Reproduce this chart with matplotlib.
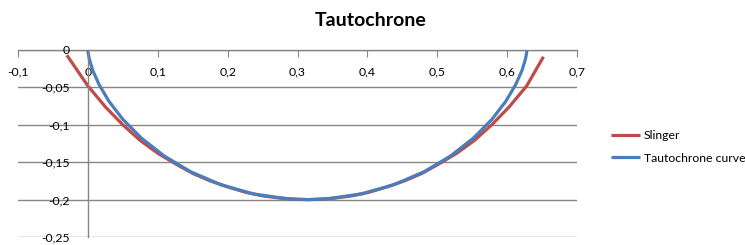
import matplotlib
matplotlib.use("Agg")
import matplotlib.pyplot as plt

plt.rcParams['font.family'] = ['Lato', 'DejaVu Sans']

# Data
slinger_x = [-0.030, 0.000, 0.025, 0.050, 0.075, 0.100, 0.125, 0.150, 0.175, 0.200,
             0.225, 0.250, 0.275, 0.300, 0.314, 0.328, 0.353, 0.378, 0.403, 0.428,
             0.453, 0.478, 0.503, 0.528, 0.553, 0.578, 0.603, 0.628, 0.652]
slinger_y = [-0.007, -0.048, -0.076, -0.100, -0.121, -0.138, -0.152, -0.165, -0.175, -0.183,
             -0.190, -0.195, -0.198, -0.1997, -0.200, -0.1997, -0.198, -0.195, -0.190, -0.183,
             -0.175, -0.165, -0.152, -0.138, -0.121, -0.100, -0.076, -0.048, -0.009]

taut_x = [0.0000, 0.0001, 0.0005, 0.0021, 0.0068, 0.0159, 0.0301, 0.0502, 0.0766, 0.1091,
          0.1472, 0.1902, 0.2368, 0.2859, 0.3142, 0.3424, 0.3915, 0.4381, 0.4811, 0.5192,
          0.5517, 0.5781, 0.5982, 0.6124, 0.6215, 0.6262, 0.6278, 0.6282]
taut_y = [0.0000, -0.0011, -0.0045, -0.0122, -0.0268, -0.0460, -0.0685, -0.0929, -0.1178, -0.1416,
          -0.1628, -0.1801, -0.1924, -0.1990, -0.2000, -0.1990, -0.1924, -0.1801, -0.1628, -0.1416,
          -0.1178, -0.0929, -0.0685, -0.0460, -0.0268, -0.0122, -0.0045, -0.0011]

x_ticks = [-0.1, 0.0, 0.1, 0.2, 0.3, 0.4, 0.5, 0.6, 0.7]
x_labels = ['-0,1', '0', '0,1', '0,2', '0,3', '0,4', '0,5', '0,6', '0,7']
y_ticks = [0.0, -0.05, -0.1, -0.15, -0.2, -0.25]
y_labels = ['0', '-0,05', '-0,1', '-0,15', '-0,2', '-0,25']

W, H = 745, 245
fig = plt.figure(figsize=(W / 100, H / 100), dpi=100)
ax = fig.add_axes([18 / W, 1 - 237 / H, (577 - 18) / W, (237 - 50) / H])

grid_c = '#868686'
ax.plot(slinger_x, slinger_y, color='#BE4B48', lw=2.3, label='Slinger',
        solid_capstyle='butt', solid_joinstyle='round')
ax.plot(taut_x, taut_y, color='#4A7EBB', lw=2.3, label='Tautochrone curve',
        solid_capstyle='butt', solid_joinstyle='round')

ax.set_xlim(-0.1, 0.7)
ax.set_ylim(-0.25, 0.0)
ax.set_xticks(x_ticks)
ax.set_xticklabels(x_labels)
ax.set_yticks(y_ticks)
ax.set_yticklabels(y_labels)

for s in ['top', 'right']:
    ax.spines[s].set_visible(False)
ax.spines['left'].set_position(('data', 0))
ax.spines['bottom'].set_position(('data', 0))
for s in ['left', 'bottom']:
    ax.spines[s].set_color(grid_c)
    ax.spines[s].set_linewidth(1)
ax.spines['bottom'].set_zorder(0)

ax.yaxis.grid(True, color=grid_c, lw=1)
ax.set_axisbelow(True)
ax.tick_params(axis='x', direction='out', length=5, color=grid_c, labelsize=8.8, pad=7)
ax.tick_params(axis='y', direction='out', length=0, labelsize=8.8, pad=13)
ax.patch.set_alpha(0)

fig.text(371 / W, 1 - 20 / H, 'Tautochrone', ha='center', va='center',
         fontsize=14, fontweight='bold')

leg = fig.legend(loc='upper left', bbox_to_anchor=(600 / W, 1 - 119 / H), frameon=False,
                 fontsize=8.8, handlelength=2.4, handletextpad=0.3, labelspacing=0.95)

fig.savefig('out.png', dpi=100)
